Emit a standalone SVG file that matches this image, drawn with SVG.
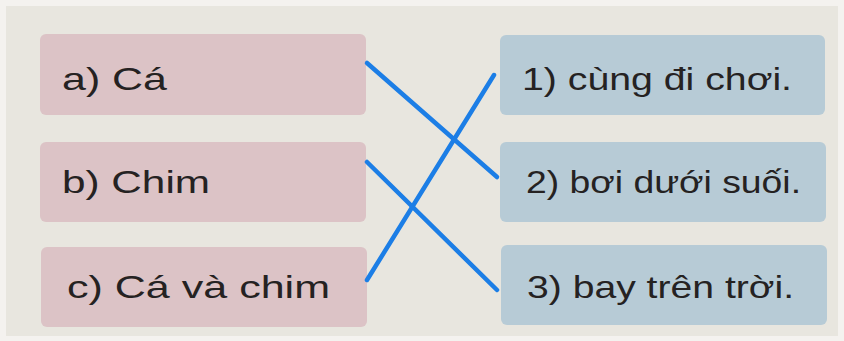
<svg xmlns="http://www.w3.org/2000/svg" width="844" height="341" viewBox="0 0 844 341">
  <style>
    .left { fill: #dcc3c6; }
    .right { fill: #b7cbd6; }
    .lbl { font-family: "Liberation Sans", "DejaVu Sans", sans-serif; font-size: 32px; fill: #252222; }
    .conn { stroke: #1c7ee6; stroke-width: 4.5; stroke-linecap: round; fill: none; }
  </style>
  <rect x="0" y="0" width="844" height="341" fill="#f4f2ef"/>
  <rect x="6" y="6" width="832" height="330" fill="#e8e6df"/>
  <g id="node-a">
    <rect class="left" x="40" y="34" width="326" height="81" rx="6"/>
    <text class="lbl" x="62" y="90" textLength="105" lengthAdjust="spacingAndGlyphs">a) Cá</text>
  </g>
  <g id="node-b">
    <rect class="left" x="40" y="142" width="326" height="80" rx="6"/>
    <text class="lbl" x="62" y="193" textLength="148" lengthAdjust="spacingAndGlyphs">b) Chim</text>
  </g>
  <g id="node-c">
    <rect class="left" x="41" y="247" width="326" height="80" rx="6"/>
    <text class="lbl" x="67" y="298" textLength="263" lengthAdjust="spacingAndGlyphs">c) Cá và chim</text>
  </g>
  <g id="node-1">
    <rect class="right" x="500" y="35" width="325" height="80" rx="6"/>
    <text class="lbl" x="522" y="90" textLength="270" lengthAdjust="spacingAndGlyphs">1) cùng đi chơi.</text>
  </g>
  <g id="node-2">
    <rect class="right" x="500" y="142" width="326" height="80" rx="6"/>
    <text class="lbl" x="526" y="193" textLength="275" lengthAdjust="spacingAndGlyphs">2) bơi dưới suối.</text>
  </g>
  <g id="node-3">
    <rect class="right" x="501" y="245" width="326" height="80" rx="6"/>
    <text class="lbl" x="527" y="298" textLength="267" lengthAdjust="spacingAndGlyphs">3) bay trên trời.</text>
  </g>
  <g id="connectors">
    <line class="conn" x1="367" y1="63" x2="497" y2="177"/>
    <line class="conn" x1="367" y1="162" x2="497" y2="290"/>
    <line class="conn" x1="367" y1="280" x2="494" y2="75"/>
  </g>
</svg>
